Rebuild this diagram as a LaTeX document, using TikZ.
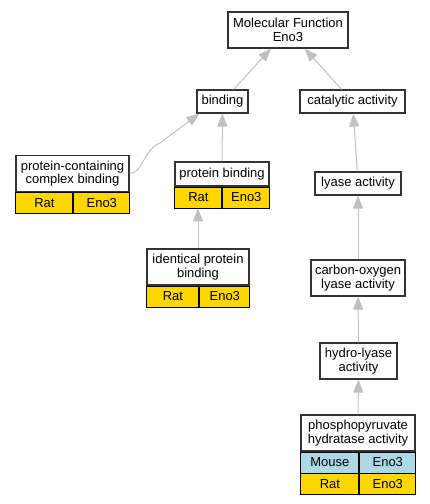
\documentclass[tikz,border=0pt]{standalone}
\usepackage{fontspec}
\setmainfont{Liberation Sans}
\usepackage{xcolor}
\usepackage{tikz}
\usetikzlibrary{arrows.meta}
\usetikzlibrary{positioning}
\definecolor{gold}{HTML}{FFD700}
\definecolor{hellblau}{HTML}{ADD8E6}
\definecolor{kantengrau}{HTML}{C0C0C0}
\tikzset{
  Begriff/.style 2 args={draw=black!80, line width=1.1pt, fill=white, align=center,
    inner sep=0pt, minimum width=#1, minimum height=#2}, % für Begriffe
  Zelle/.style={draw=black, line width=.9pt, inner sep=0pt, minimum width=#1,
    minimum height=21pt, anchor=north west}, % für Tabellenzellen
  Ratte/.style={Zelle=#1, fill=gold},
  Maus/.style={Zelle=#1, fill=hellblau},
  Kante/.style={draw=kantengrau, line width=1pt, -{Triangle[length=13pt,width=10pt]}} % für Kanten
}

\begin{document}
\begin{tikzpicture}[x=1pt, y=-1pt,
font=\fontsize{13}{13.5}\selectfont
]
\useasboundingbox (0,0) rectangle (429,504);

%Begriffe
\node[Begriff={120pt}{36pt}] (mf) at (288,30) {Molecular Function\\Eno3};
\node[Begriff={51pt}{23pt}] (binding) at (222.5,101.5) {binding};
\node[Begriff={105pt}{23pt}] (katalyt) at (352.5,101.5) {catalytic activity};
\node[Begriff={113pt}{36pt}] (pcb) at (72.5,173.5) {protein-containing\\complex binding};
\node[Begriff={94pt}{24pt}] (pb) at (222,174) {protein binding};
\node[Begriff={86pt}{23pt}] (lyase) at (358,183.5) {lyase activity};
\node[Begriff={102pt}{36pt}] (ipb) at (198,267) {identical protein\\binding};
\node[Begriff={94pt}{36pt}] (co) at (358,278) {carbon-oxygen\\lyase activity};
\node[Begriff={77pt}{36pt}] (hydro) at (358.5,361) {hydro-lyase\\activity};
\node[Begriff={114pt}{36pt}] (phospho) at (358,433) {phosphopyruvate\\hydratase activity};

%Tabellen
\node[Ratte=57pt] (pcbRat) at (pcb.south west) {Rat};
\node[Ratte=56pt] (pcbEno) at (pcbRat.north east) {Eno3};
\node[Ratte=47pt] (pbRat) at (pb.south west) {Rat};
\node[Ratte=47pt] (pbEno) at (pbRat.north east) {Eno3};
\node[Ratte=52pt] (ipbRat) at (ipb.south west) {Rat};
\node[Ratte=50pt] (ipbEno) at (ipbRat.north east) {Eno3};
\node[Maus=58pt] (phMaus) at (phospho.south west) {Mouse};
\node[Maus=56pt] (phMausEno) at (phMaus.north east) {Eno3};
\node[Ratte=58pt] (phRat) at (phMaus.south west) {Rat};
\node[Ratte=56pt] (phRatEno) at (phRat.north east) {Eno3};

%Kanten
\draw[Kante] (binding) -- (mf);
\draw[Kante] (katalyt) -- (mf);
\draw[Kante] (pcb.east) .. controls (143,173.5) and (143,150) .. (160,143) -- ([xshift=3pt]binding.south west);
\draw[Kante] (pb) -- (binding);
\draw[Kante] (ipb) -- (ipb |- pbRat.south);
\draw[Kante] (lyase) -- (katalyt);
\draw[Kante] (co) -- (lyase);
\draw[Kante] (hydro) -- (co);
\draw[Kante] (phospho) -- (hydro);

\end{tikzpicture}
\end{document}
